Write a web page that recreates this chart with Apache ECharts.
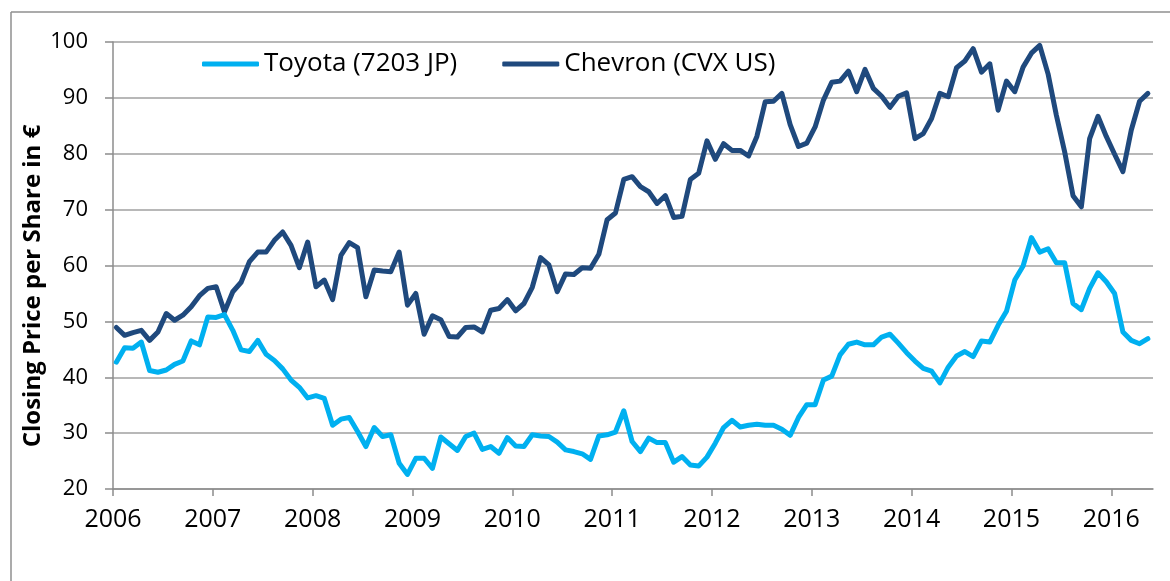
<!DOCTYPE html>
<html>
<head>
<meta charset="utf-8">
<script src="https://cdn.jsdelivr.net/npm/echarts@6/dist/echarts.min.js"></script>
<style>
html,body{margin:0;padding:0;background:#fff;}
#c{width:1170px;height:581px;}
</style>
</head>
<body>
<div id="c"></div>
<script>
// Monthly closing prices, Jan 2006 .. May 2016
const startYear = 2006;
const seriesNames = ['Toyota (7203 JP)', 'Chevron (CVX US)'];
const yearTicks = [2006, 2007, 2008, 2009, 2010, 2011, 2012, 2013, 2014, 2015, 2016];
const toyota = [
  42.7, 45.3, 45.2, 46.3, 41.2, 40.9, 41.3, 42.3, 42.9, 46.5, 45.8, 50.8,
  50.7, 51.2, 48.4, 44.9, 44.6, 46.6, 44.1, 43.0, 41.5, 39.5, 38.2, 36.3,
  36.7, 36.2, 31.4, 32.5, 32.8, 30.3, 27.6, 31.0, 29.4, 29.7, 24.6, 22.6,
  25.5, 25.5, 23.7, 29.3, 28.1, 26.9, 29.4, 30.0, 27.1, 27.6, 26.4, 29.2,
  27.7, 27.6, 29.7, 29.5, 29.4, 28.4, 27.0, 26.7, 26.3, 25.3, 29.5, 29.7,
  30.2, 34.0, 28.5, 26.7, 29.1, 28.3, 28.3, 24.8, 25.8, 24.3, 24.1, 25.7,
  28.2, 31.0, 32.3, 31.1, 31.4, 31.6, 31.4, 31.4, 30.7, 29.6, 32.8, 35.1,
  35.1, 39.5, 40.2, 44.0, 45.9, 46.3, 45.8, 45.8, 47.2, 47.7, 46.1, 44.4,
  42.9, 41.6, 41.1, 39.0, 41.8, 43.8, 44.6, 43.7, 46.5, 46.3, 49.3, 51.8,
  57.4, 59.9, 65.0, 62.4, 63.0, 60.5, 60.5, 53.2, 52.1, 55.9, 58.7, 57.1,
  55.0, 48.1, 46.6, 46.0, 46.9
];
const chevron = [
  48.9, 47.5, 48.0, 48.4, 46.6, 48.1, 51.4, 50.2, 51.1, 52.6, 54.6, 55.9,
  56.2, 51.7, 55.3, 57.0, 60.7, 62.4, 62.4, 64.5, 66.0, 63.6, 59.6, 64.2,
  56.2, 57.4, 53.9, 61.8, 64.1, 63.2, 54.4, 59.2, 59.0, 58.9, 62.4, 52.9,
  55.0, 47.7, 51.0, 50.3, 47.3, 47.2, 48.9, 49.0, 48.1, 52.0, 52.3, 53.9,
  51.9, 53.2, 56.1, 61.4, 60.1, 55.3, 58.5, 58.4, 59.6, 59.5, 62.0, 68.2,
  69.4, 75.4, 75.9, 74.1, 73.2, 71.1, 72.5, 68.6, 68.8, 75.4, 76.5, 82.3,
  79.0, 81.8, 80.6, 80.6, 79.6, 83.1, 89.3, 89.4, 90.8, 85.2, 81.3, 81.9,
  84.8, 89.6, 92.8, 93.0, 94.8, 91.1, 95.1, 91.7, 90.3, 88.3, 90.3, 90.9,
  82.7, 83.6, 86.3, 90.8, 90.2, 95.4, 96.6, 98.8, 94.6, 96.1, 87.8, 93.0,
  91.1, 95.5, 98.0, 99.4, 94.3, 86.9, 80.3, 72.5, 70.5, 82.7, 86.7, 83.1,
  79.9, 76.8, 84.2, 89.4, 90.8
];
const colors = ['#00B0F0', '#1F497D'];

// month position in years
function monthPos(i) { return startYear + (i + 0.4) / 12; }
function toPairs(arr) { return arr.map((v, i) => [monthPos(i), v]); }

const FONT = '"Open Sans", sans-serif';
const chart = echarts.init(document.getElementById('c'), null, {renderer: 'canvas'});
chart.setOption({
  animation: false,
  backgroundColor: '#fff',
  grid: {left: 113, right: 17, top: 42, bottom: 92, containLabel: false},
  legend: {
    show: true,
    left: 202,
    top: 48,
    padding: 0,
    itemWidth: 57,
    itemHeight: 5,
    itemGap: 45,
    icon: 'roundRect',
    textStyle: {fontFamily: FONT, fontSize: 26, color: '#000', lineHeight: 32},
    data: seriesNames.map((n, i) => ({name: n, itemStyle: {color: colors[i]}}))
  },
  xAxis: {
    type: 'value',
    min: 2006,
    max: 2016.418,
    interval: 1,
    axisLine: {show: true, lineStyle: {color: '#8c8c8c', width: 1.5}},
    axisTick: {show: true, length: 7, lineStyle: {color: '#8c8c8c', width: 1.5}, customValues: yearTicks},
    axisLabel: {
      show: true, margin: 18, fontFamily: FONT, fontSize: 25, color: '#000',
      customValues: yearTicks,
      formatter: v => String(Math.round(v))
    },
    splitLine: {show: false}
  },
  yAxis: {
    type: 'value',
    min: 20,
    max: 100,
    interval: 10,
    axisLine: {show: true, lineStyle: {color: '#8c8c8c', width: 1.5}},
    axisTick: {show: true, inside: false, length: 8, lineStyle: {color: '#8c8c8c', width: 1.5}},
    axisLabel: {show: true, margin: 25, fontFamily: FONT, fontSize: 22, color: '#000'},
    splitLine: {show: true, lineStyle: {color: '#a0a0a0', width: 1.5}}
  },
  graphic: [
    {type: 'line', shape: {x1: 11, y1: 12, x2: 1170, y2: 12}, style: {stroke: '#8f8f8f', lineWidth: 1.5}, silent: true},
    {type: 'line', shape: {x1: 11, y1: 12, x2: 11, y2: 581}, style: {stroke: '#8f8f8f', lineWidth: 1.5}, silent: true},
    {type: 'text', x: 33, y: 286, rotation: Math.PI / 2,
      style: {text: 'Closing Price per Share in €', font: 'bold 24px "Open Sans", sans-serif', fill: '#000', align: 'center', verticalAlign: 'middle'}}
  ],
  series: [
    {name: seriesNames[0], type: 'line', data: toPairs(toyota), symbol: 'none', showSymbol: false,
      lineStyle: {color: colors[0], width: 5, join: 'round', cap: 'round'}, itemStyle: {color: colors[0]}, z: 3},
    {name: seriesNames[1], type: 'line', data: toPairs(chevron), symbol: 'none', showSymbol: false,
      lineStyle: {color: colors[1], width: 5, join: 'round', cap: 'round'}, itemStyle: {color: colors[1]}, z: 2}
  ]
});
</script>
</body>
</html>
